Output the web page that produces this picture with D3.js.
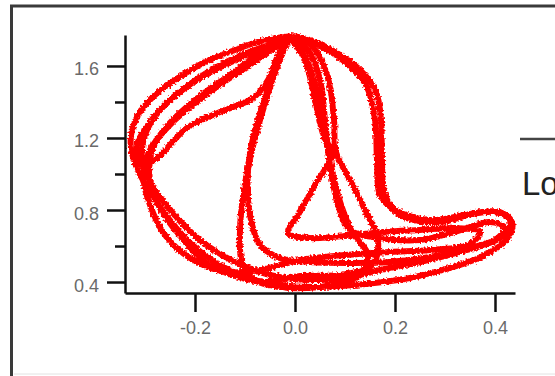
<!DOCTYPE html>
<html>
<head>
<meta charset="utf-8">
<script src="https://cdn.jsdelivr.net/npm/d3@7"></script>
<style>
    html, body { margin: 0; padding: 0; background: #fff; overflow: hidden; }
    svg { display: block; }
</style>
</head>
<body>
<script>
'use strict';

const WIDTH = 555;
const HEIGHT = 376;

const X_DOMAIN = [-0.34, 0.44];
const Y_DOMAIN = [0.339, 1.772];
const X_TICKS = [-0.2, 0.0, 0.2, 0.4];
const Y_TICKS = [0.4, 0.8, 1.2, 1.6];
const Y_MINOR_TICKS = [0.6, 1.0, 1.4];
const LEGEND_LABEL = 'Lorenz';

// Trajectory, one loop at a time: [x, y].
const LOOP_1 = [
    [-0.004, 1.767], [-0.06, 1.744], [-0.12, 1.689], [-0.18, 1.622], [-0.234, 1.533],
    [-0.28, 1.439], [-0.31, 1.344], [-0.326, 1.244], [-0.328, 1.144], [-0.316, 1.033],
    [-0.29, 0.9], [-0.254, 0.756], [-0.21, 0.617], [-0.16, 0.511], [-0.10, 0.428],
    [-0.03, 0.383], [0.05, 0.372], [0.14, 0.389], [0.23, 0.422], [0.31, 0.478],
    [0.38, 0.55], [0.426, 0.644], [0.434, 0.733], [0.41, 0.789], [0.36, 0.783],
    [0.29, 0.733], [0.21, 0.772], [0.18, 0.883], [0.174, 1.078], [0.172, 1.3],
    [0.162, 1.456], [0.13, 1.578], [0.08, 1.678], [0.03, 1.744], [-0.004, 1.767],
];
const LOOP_2 = [
    [-0.01, 1.744], [-0.08, 1.689], [-0.16, 1.589], [-0.22, 1.478], [-0.27, 1.356],
    [-0.30, 1.217], [-0.306, 1.078], [-0.286, 0.939], [-0.246, 0.789], [-0.19, 0.633],
    [-0.12, 0.511], [-0.05, 0.439], [0.03, 0.411], [0.11, 0.428], [0.17, 0.467],
    [0.25, 0.511], [0.33, 0.567], [0.40, 0.633], [0.42, 0.7], [0.39, 0.733],
    [0.32, 0.678], [0.25, 0.633], [0.17, 0.644], [0.11, 0.689], [0.086, 0.828],
    [0.07, 1.05], [0.06, 1.3], [0.05, 1.522], [0.026, 1.689], [-0.006, 1.744],
];
const LOOP_3 = [
    [-0.014, 1.744], [-0.038, 1.578], [-0.064, 1.356], [-0.086, 1.133], [-0.102, 0.911],
    [-0.11, 0.689], [-0.106, 0.511], [-0.08, 0.411], [-0.01, 0.367], [0.07, 0.383],
    [0.13, 0.439], [0.146, 0.55], [0.114, 0.678], [0.086, 0.883], [0.066, 1.133],
    [0.046, 1.439], [0.014, 1.689], [-0.01, 1.756],
];
const LOOP_4 = [
    [-0.006, 1.756], [-0.05, 1.717], [-0.11, 1.644], [-0.19, 1.533], [-0.25, 1.411],
    [-0.294, 1.272], [-0.316, 1.161], [-0.306, 1.05], [-0.28, 1.078], [-0.216, 1.256],
    [-0.15, 1.344], [-0.084, 1.422], [-0.054, 1.522], [-0.03, 1.678], [0.0, 1.756],
    [0.05, 1.711], [0.10, 1.622], [0.142, 1.494], [0.16, 1.3], [0.164, 1.078],
    [0.17, 0.883], [0.20, 0.8], [0.27, 0.744], [0.34, 0.772], [0.40, 0.789],
    [0.43, 0.744], [0.42, 0.661], [0.35, 0.589], [0.27, 0.539], [0.19, 0.511],
    [0.11, 0.506], [0.03, 0.511], [-0.03, 0.533], [-0.07, 0.606], [-0.09, 0.772],
    [-0.094, 1.022], [-0.08, 1.244], [-0.054, 1.467], [-0.024, 1.689], [-0.004, 1.761],
];
const LOOP_5 = [
    [-0.006, 1.744], [0.02, 1.633], [0.04, 1.411], [0.06, 1.189], [0.076, 1.122],
    [0.04, 0.939], [0.006, 0.772], [-0.014, 0.672], [0.03, 0.644], [0.10, 0.656],
    [0.18, 0.678], [0.25, 0.689], [0.32, 0.7], [0.37, 0.678], [0.35, 0.611],
    [0.27, 0.578], [0.19, 0.567], [0.10, 0.55], [0.01, 0.522], [-0.07, 0.467],
    [-0.14, 0.456], [-0.21, 0.533], [-0.26, 0.661], [-0.29, 0.828], [-0.304, 0.994],
    [-0.29, 1.133], [-0.24, 1.3], [-0.17, 1.456], [-0.10, 1.589], [-0.04, 1.7],
    [-0.006, 1.756],
];
const LOOP_6 = [
    [0.002, 1.756], [0.034, 1.711], [0.066, 1.533], [0.078, 1.3], [0.082, 1.122],
    [0.11, 0.967], [0.14, 0.8], [0.166, 0.633], [0.154, 0.494], [0.09, 0.439],
    [0.01, 0.433], [-0.06, 0.4], [-0.126, 0.439], [-0.18, 0.511], [-0.23, 0.656],
    [-0.27, 0.811], [-0.29, 0.967], [-0.286, 1.133], [-0.254, 1.272], [-0.2, 1.411],
    [-0.13, 1.55], [-0.066, 1.678], [-0.014, 1.744],
];
const LOOPS = [LOOP_1, LOOP_2, LOOP_3, LOOP_4, LOOP_5, LOOP_6];

const LINE_COLOR = '#ff0000';
const LINE_WIDTH = 6;
const AXIS_COLOR = '#111';
const LABEL_COLOR = '#6a6a6a';
const FONT = '"Liberation Sans", Arial, sans-serif';

// Plain hyphen for negatives, as in the picture.
function formatTick(value) {
    return d3.format('.1f')(value).replace('\u2212', '-');
}

function main() {
    let svg = d3.select('body')
            .append('svg')
            .attr('width', WIDTH)
            .attr('height', HEIGHT);

    // Rough edge for the noisy trace.
    let filter = svg.append('defs')
            .append('filter')
            .attr('id', 'rough')
            .attr('x', '-5%').attr('y', '-5%')
            .attr('width', '110%').attr('height', '110%');
    filter.append('feTurbulence')
            .attr('type', 'fractalNoise')
            .attr('baseFrequency', 0.5)
            .attr('numOctaves', 2)
            .attr('seed', 4)
            .attr('result', 'noise');
    filter.append('feDisplacementMap')
            .attr('in', 'SourceGraphic')
            .attr('in2', 'noise')
            .attr('scale', 5)
            .attr('xChannelSelector', 'R')
            .attr('yChannelSelector', 'G');

    // Outer frame.
    svg.append('rect')
            .attr('x', 11.5)
            .attr('y', 6)
            .attr('width', 700)
            .attr('height', 500)
            .attr('fill', 'none')
            .attr('stroke', '#3a3a3a')
            .attr('stroke-width', 3);
    svg.append('line')
            .attr('x1', 14).attr('x2', WIDTH)
            .attr('y1', 374).attr('y2', 374)
            .attr('stroke', '#e2e2e2')
            .attr('stroke-width', 1);

    const x = d3.scaleLinear().domain(X_DOMAIN).range([125, 515]);
    const y = d3.scaleLinear().domain(Y_DOMAIN).range([293, 35]);

    const line = d3.line()
            .x(d => x(d[0]))
            .y(d => y(d[1]))
            .curve(d3.curveCatmullRom.alpha(0.5));

    svg.append('g')
            .attr('filter', 'url(#rough)')
            .selectAll('path')
            .data(LOOPS)
            .join('path')
            .attr('d', line)
            .attr('fill', 'none')
            .attr('stroke', LINE_COLOR)
            .attr('stroke-width', LINE_WIDTH)
            .attr('stroke-linejoin', 'round');

    // Axes.
    let yAxis = svg.append('g')
            .attr('transform', 'translate(125,0)')
            .call(d3.axisLeft(y).tickValues(Y_TICKS).tickSize(18).tickSizeOuter(0)
                    .tickPadding(8).tickFormat(formatTick));
    let yMinor = svg.append('g')
            .attr('transform', 'translate(125,0)')
            .call(d3.axisLeft(y).tickValues(Y_MINOR_TICKS).tickSize(10).tickSizeOuter(0)
                    .tickFormat(''));
    let xAxis = svg.append('g')
            .attr('transform', 'translate(0,293)')
            .call(d3.axisBottom(x).tickValues(X_TICKS).tickSize(19).tickSizeOuter(0)
                    .tickPadding(18).tickFormat(formatTick));
    yMinor.select('.domain').remove();

    [yAxis, yMinor, xAxis].forEach(function(axis) {
        axis.selectAll('.domain, line')
                .attr('stroke', AXIS_COLOR)
                .attr('stroke-width', 2.5);
        axis.selectAll('text')
                .attr('fill', LABEL_COLOR)
                .style('font-family', FONT)
                .style('font-size', '18px');
    });
    yAxis.selectAll('text').attr('dy', '0.5em');
    xAxis.selectAll('text').attr('dy', '0.2em');

    // Legend, cut off by the right edge.
    svg.append('line')
            .attr('x1', 520).attr('x2', 600)
            .attr('y1', 139).attr('y2', 139)
            .attr('stroke', '#444')
            .attr('stroke-width', 2.5);
    svg.append('text')
            .attr('x', 522)
            .attr('y', 195)
            .attr('fill', '#222')
            .style('font-family', FONT)
            .style('font-size', '33px')
            .text(LEGEND_LABEL);
}

document.addEventListener('DOMContentLoaded', function(event) {
    main();
});
</script>
</body>
</html>
